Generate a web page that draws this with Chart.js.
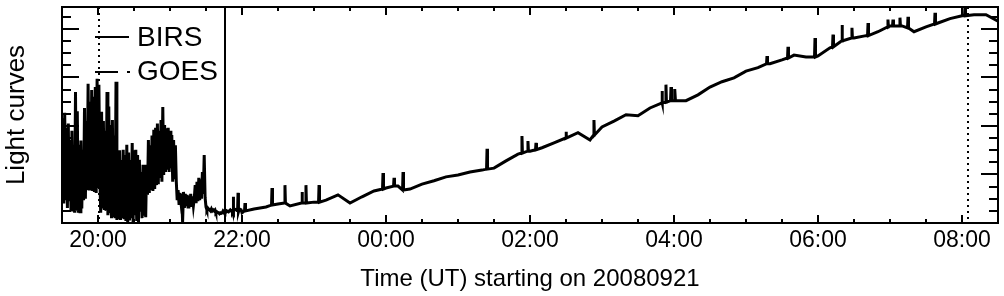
<!DOCTYPE html>
<html>
<head>
<meta charset="utf-8">
<script src="https://cdn.jsdelivr.net/npm/chart.js@4/dist/chart.umd.min.js"></script>
<style>
body{margin:0;background:#fff;}
canvas{display:block;}
</style>
</head>
<body>
<canvas id="myChart" width="1004" height="296"></canvas>
<script>
// time in minutes from 00:00 UT on 20080921 (1170 = 19:30)
var noiseStart = 1170;
var noiseStep = 0.75;
var birsNoisy = [1.30,2.16,0.40,2.27,0.47,1.96,0.31,2.05,0.45,
    1.71,0.27,1.90,0.30,1.60,
    0.21,2.70,0.25,2.30,
    0.21,1.61,0.23,1.70,0.30,1.51,0.47,
    2.37,0.50,2.10,0.68,
    2.87,0.70,2.50,0.78,2.74,0.66,2.60,0.64,2.80,
    0.62,2.97,0.75,2.85,0.99,
    0.21,2.29,0.30,2.10,0.27,1.90,0.25,
    2.70,0.16,2.40,0.20,
    2.02,0.10,2.12,0.12,1.80,
    0.10,2.91,
    0.06,1.40,0.08,1.50,0.06,1.30,0.10,1.51,0.08,1.40,
    0.04,1.61,0.02,1.45,0.05,
    1.30,0.10,1.65,0.02,1.50,0.16,1.51,0.04,1.40,0.02,1.30,
    0.23,1.05,0.10,1.20,0.15,1.10,0.12,1.20,
    0.58,1.71,0.62,1.60,0.68,1.80,0.66,1.92,0.70,
    1.96,0.78,2.05,0.80,1.90,0.93,2.12,0.85,
    2.39,0.99,
    2.02,1.05,1.95,1.10,1.96,1.05,1.90,1.13,1.81,
    0.85,1.71,0.90,1.60,0.85,
    0.47,0.68,0.40,0.62,0.45,0.60,
    0.02,0.64,0.31,0.60,0.35,0.58,0.33,0.56,0.35,0.60,0.33,0.55,0.36,0.52,
    0.78,0.41,0.85,0.45,0.93,0.47,0.90,0.50,1.05,0.60,
    1.40,
    0.52,0.33,0.27,0.31,0.29,0.27,0.25,
    0.29,0.25,0.27,0.25,0.27,0.21,0.23,0.22,0.21,0.19,
    0.21,0.20,0.21,0.25,0.23,0.21,0.22,0.25,0.24,0.23,
    0.25,0.27,0.25,0.26,0.25,0.29,0.27,0.28,0.27,0.26,
    0.27,0.29,0.28,0.27];

var smoothStart = 1320;
var smoothStep = 10;
var birsSmooth = [0.21,0.29,0.33,0.39,0.35,0.41,0.43,0.47,0.58,0.41,
    0.54,0.66,0.72,0.76,0.70,0.80,0.87,0.95,0.99,1.05,
    1.09,1.13,1.28,1.42,1.48,1.55,1.65,1.75,1.86,1.71,
    1.98,2.10,2.23,2.21,2.37,2.49,2.52,2.52,2.64,2.80,
    2.91,2.99,3.13,3.20,3.28,3.36,3.46,3.42,3.44,3.61,
    3.75,3.81,3.86,3.94,4.06,4.06,3.94,4.04,4.12,4.21,
    4.27,4.29,4.29,4.16];

var spikeTimes = [1312.5,1316.7,1322.5,1345,1355.8,1370,1373.3,1384.2,1437.5,1446.7,
    1454.2,1524.2,1553.3,1558.3,1565,1590,1613.3,1670,1673.3,1677.5,
    1680.8,1757.5,1775,1797.5,1812.5,1820,1828.3,1841.7,1858.3,1862.5,
    1868.3,1875,1897.5,1922.5];
var spikeBase = [0.23,0.23,0.25,0.37,0.41,0.41,0.41,0.43,0.70,0.76,
    0.68,1.11,1.44,1.48,1.51,1.75,1.81,2.47,2.49,2.52,
    2.52,3.28,3.40,3.42,3.63,3.75,3.81,3.86,4.04,4.06,
    4.06,4.02,4.10,4.27];
var spikePeak = [0.54,0.62,0.41,0.72,0.78,0.64,0.78,0.78,1.03,0.93,
    1.05,1.53,1.79,1.69,1.65,1.88,2.12,2.72,2.85,2.80,
    2.76,3.44,3.63,3.81,3.88,4.08,4.02,4.12,4.19,4.19,
    4.23,4.25,4.33,4.45];

var tickTimes = [1200,1320,1440,1560,1680,1800,1920];
var tickLabels = ['20:00','22:00','00:00','02:00','04:00','06:00','08:00'];
var dottedTimes = [1201,1925];
var solidTimes = [1306];
var legendNames = ['BIRS','GOES'];

var xMin = 1170, xMax = 1950;
var yMin = 0, yMax = 4.45;

// build the BIRS series
var birsPoints = [];
for(let i = 0; i < birsNoisy.length; i++){
    birsPoints.push({x: noiseStart + i*noiseStep, y: birsNoisy[i]});
}
for(let i = 0; i < birsSmooth.length; i++){
    birsPoints.push({x: smoothStart + i*smoothStep, y: birsSmooth[i]});
}
for(let i = 0; i < spikeTimes.length; i++){
    birsPoints.push({x: spikeTimes[i]-0.4, y: spikeBase[i]});
    birsPoints.push({x: spikeTimes[i], y: spikePeak[i]});
    birsPoints.push({x: spikeTimes[i]+0.4, y: spikeBase[i]});
}
birsPoints.sort(function(a,b){ return a.x - b.x; });

var fontFam = '"Liberation Sans", Arial, Helvetica, sans-serif';

var framePlugin = {
    id: 'framePlugin',
    afterDatasetsDraw: function(chart){
        var ctx = chart.ctx;
        var a = chart.chartArea;
        var x = chart.scales.x, y = chart.scales.y;
        ctx.save();
        ctx.strokeStyle = '#000';
        ctx.lineWidth = 2;

        // marker lines
        ctx.setLineDash([2,4]);
        ctx.beginPath();
        dottedTimes.forEach(function(t){
            var px = Math.round(x.getPixelForValue(t));
            ctx.moveTo(px, a.top); ctx.lineTo(px, a.bottom);
        });
        ctx.stroke();
        ctx.setLineDash([]);
        ctx.beginPath();
        solidTimes.forEach(function(t){
            var px = Math.round(x.getPixelForValue(t));
            ctx.moveTo(px, a.top); ctx.lineTo(px, a.bottom);
        });
        ctx.stroke();

        // frame
        ctx.strokeRect(a.left, a.top, a.right - a.left, a.bottom - a.top);

        // ticks
        ctx.beginPath();
        for(let t = xMin; t <= xMax; t += 30){
            var px = Math.round(x.getPixelForValue(t));
            var len = (t % 120 === 0) ? 8 : 4;
            ctx.moveTo(px, a.bottom); ctx.lineTo(px, a.bottom - len);
            ctx.moveTo(px, a.top); ctx.lineTo(px, a.top + len);
        }
        for(let k = 0; k * 0.25 <= yMax; k++){
            var v = k * 0.25;
            var py = Math.round(y.getPixelForValue(v));
            var ylen = (k % 4 === 0) ? 17 : 9;
            ctx.moveTo(a.left, py); ctx.lineTo(a.left + ylen, py);
            ctx.moveTo(a.right, py); ctx.lineTo(a.right - ylen, py);
        }
        ctx.stroke();

        // legend
        ctx.font = '28px ' + fontFam;
        ctx.fillStyle = '#000';
        ctx.textBaseline = 'middle';
        ctx.beginPath();
        ctx.moveTo(95, 37); ctx.lineTo(129, 37);
        ctx.stroke();
        ctx.setLineDash([23, 9, 3, 20]);
        ctx.beginPath();
        ctx.moveTo(95, 72); ctx.lineTo(135, 72);
        ctx.stroke();
        ctx.setLineDash([]);
        ctx.fillText(legendNames[0], 137, 38);
        ctx.fillText(legendNames[1], 137, 72);
        ctx.restore();
    }
};

var ctx = document.getElementById('myChart');
var lightChart = new Chart(ctx, {
    type: 'line',
    data: {
        datasets: [{
            label: 'BIRS',
            data: birsPoints,
            borderColor: '#000',
            borderWidth: 3,
            pointRadius: 0,
            tension: 0
        },{
            label: 'GOES',
            data: [],
            borderColor: '#000',
            borderWidth: 2,
            borderDash: [23, 9, 3, 9],
            pointRadius: 0
        }]
    },
    options: {
        responsive: false,
        devicePixelRatio: 1,
        animation: false,
        layout: { padding: { top: 7, right: 6, left: 0, bottom: 0 } },
        plugins: { legend: { display: false }, tooltip: { enabled: false } },
        scales: {
            x: {
                type: 'linear',
                min: xMin,
                max: xMax,
                grid: { display: false, drawTicks: false },
                border: { display: false },
                afterBuildTicks: function(scale){
                    scale.ticks = tickTimes.map(function(v){ return {value: v}; });
                },
                afterFit: function(scale){ scale.height = 73; },
                ticks: {
                    autoSkip: false,
                    maxRotation: 0,
                    padding: 4,
                    color: '#000',
                    font: { family: fontFam, size: 23 },
                    callback: function(v){ return tickLabels[tickTimes.indexOf(v)]; }
                },
                title: {
                    display: true,
                    text: 'Time (UT) starting on 20080921',
                    color: '#000',
                    font: { family: fontFam, size: 24, lineHeight: 1.2 },
                    padding: { top: 0, bottom: 2 }
                }
            },
            y: {
                min: yMin,
                max: yMax,
                grid: { display: false, drawTicks: false },
                border: { display: false },
                ticks: { display: false },
                afterFit: function(scale){ scale.width = 62; },
                title: {
                    display: true,
                    text: 'Light curves',
                    color: '#000',
                    font: { family: fontFam, size: 26, lineHeight: 1.2 },
                    padding: { top: 1, bottom: 0 }
                }
            }
        }
    },
    plugins: [framePlugin]
});
</script>
</body>
</html>
